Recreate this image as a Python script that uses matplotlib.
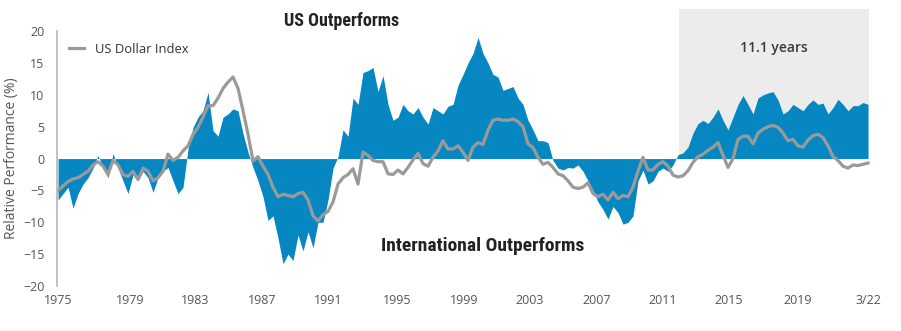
import numpy as np
from matplotlib import pyplot as plt
from matplotlib.patches import Rectangle

# relative performance US vs international (%), sampled evenly across the chart
relative_perf = [
    -6.5, -5.5, -4.5, -7.8, -5.5, -4.0, -3.0, -1.5, 0.5, -1.5,
    -3.0, 0.8, -1.5, -3.5, -5.5, -2.5, -3.5, -2.0, -3.0, -5.3,
    -3.0, -2.0, -1.4, -3.5, -5.5, -4.5, 1.5, 4.9, 6.5, 7.5,
    10.4, 4.4, 3.5, 6.5, 7.0, 7.8, 7.5, 3.9, 1.0, -1.4,
    -3.5, -6.0, -9.7, -9.0, -12.5, -16.5, -15.0, -16.0, -12.0, -14.5,
    -11.5, -14.0, -10.0, -10.0, -6.5, -1.5, 0.3, 4.5, 3.5, 9.5,
    8.5, 13.5, 13.8, 14.3, 10.5, 13.0, 8.5, 6.0, 6.5, 8.5,
    7.5, 7.0, 8.0, 6.5, 5.4, 8.0, 7.5, 7.0, 8.2, 8.5,
    11.5, 13.2, 15.0, 16.5, 19.0, 16.5, 15.0, 13.2, 12.8, 10.7,
    11.0, 11.3, 9.5, 8.5, 6.0, 4.5, 2.8, 2.8, 2.5, -0.3,
    -1.5, -1.8, -1.4, -1.5, -1.0, -2.0, -3.5, -5.0, -6.8, -8.0,
    -9.5, -7.5, -8.5, -10.3, -10.0, -9.0, -3.5, -1.8, -4.0, -3.5,
    -2.0, -1.5, -2.0, -1.0, 0.6, 0.9, 1.8, 4.0, 5.5, 6.0,
    5.5, 6.5, 7.8, 6.0, 4.5, 6.5, 8.5, 9.9, 8.5, 7.0,
    9.5, 10.0, 10.3, 10.5, 9.2, 7.0, 7.5, 8.5, 8.0, 7.5,
    8.5, 9.2, 8.5, 8.7, 7.0, 8.0, 9.3, 8.5, 7.5, 8.3,
    8.3, 8.8, 8.5,
]
dollar_index = [
    -5.0, -4.3, -3.6, -3.2, -3.0, -2.5, -2.0, -1.0, -0.5, -1.2,
    -2.5, -0.3, -1.0, -2.5, -2.8, -2.0, -3.3, -1.5, -2.0, -3.5,
    -3.0, -2.0, 0.7, -0.3, 0.2, 1.2, 2.0, 3.8, 4.9, 6.5,
    8.3, 8.3, 9.5, 11.0, 12.0, 12.8, 11.0, 7.5, 3.8, -0.4,
    0.3, -1.2, -2.5, -4.5, -6.0, -5.6, -5.8, -6.0, -5.5, -5.3,
    -6.5, -9.0, -9.8, -8.8, -8.3, -6.8, -4.0, -3.0, -2.5, -1.6,
    -4.0, 1.0, 0.5, -0.3, -0.5, -0.5, -2.4, -2.5, -1.8, -2.4,
    -1.4, -0.2, 0.8, -0.8, -1.2, 0.2, 1.2, 2.8, 1.5, 1.5,
    2.0, 1.0, -0.3, 1.8, 2.5, 2.2, 4.5, 6.0, 6.2, 6.0,
    6.0, 6.2, 5.8, 5.0, 2.3, 1.7, 0.2, -0.9, -0.6, -1.4,
    -2.4, -2.7, -3.5, -4.5, -4.7, -4.5, -3.8, -5.5, -6.0, -5.6,
    -6.5, -5.3, -6.3, -5.8, -6.0, -4.5, -2.0, 0.2, -1.8, -1.8,
    -0.9, -0.5, -1.2, -2.6, -2.9, -2.7, -1.9, -0.6, 0.3, 0.7,
    1.3, 1.8, 2.5, 0.5, -1.4, 0.0, 3.0, 3.5, 3.5, 2.3,
    4.0, 4.6, 5.0, 5.2, 4.9, 4.0, 2.8, 3.0, 2.0, 1.8,
    2.9, 3.6, 3.8, 3.3, 2.0, 0.3, -0.3, -1.2, -1.5, -1.0,
    -1.1, -0.9, -0.7,
]
tick_labels = ['1975', '1979', '1983', '1987', '1991', '1995', '1999',
               '2003', '2007', '2011', '2015', '2019', '3/22']
tick_pos = [0, 14.4, 27.4, 40.8, 54, 67.8, 81.2, 94.4, 107.8, 121, 134.2, 148, 162]
streak_start, streak_end = 124.2, 162.2

x = np.arange(len(relative_perf))
blue = '#0787c2'
grey = '#9a9a9a'
txt = '#555555'

plt.rcParams['font.family'] = ['Open Sans', 'DejaVu Sans']
fig = plt.figure(figsize=(9.01, 3.31), dpi=100)
ax = fig.add_axes([0.0633, 0.136, 0.9023, 0.770])

ax.add_patch(Rectangle((streak_start, 0), streak_end - streak_start, 23.4,
                       facecolor='#ececec', edgecolor='none', clip_on=False, zorder=0))
ax.fill_between(x, 0, relative_perf, color=blue, lw=0, zorder=1)
ax.plot(x, dollar_index, color=grey, lw=2.3, label='US Dollar Index', zorder=2)

ax.set_xlim(-0.2, 162.4)
ax.set_ylim(-20, 20)
ax.set_yticks(range(-20, 21, 5))
ax.set_xticks(tick_pos)
ax.set_xticklabels(tick_labels)
ax.tick_params(length=0, labelsize=9, labelcolor=txt, pad=6)
ax.tick_params(axis='y', pad=9)
for s in ['top', 'right', 'bottom']:
    ax.spines[s].set_visible(False)
ax.spines['left'].set_color('#b5b5b5')
ax.spines['left'].set_linewidth(1.2)
ax.set_ylabel('Relative Performance (%)', fontsize=10, color=txt)
ax.yaxis.set_label_coords(-0.047, 0.5)

ax.legend(loc='upper left', bbox_to_anchor=(0.0, 1.0), frameon=False,
          fontsize=9.4, handlelength=1.2, labelcolor='#333333')

head = ['Roboto Condensed', 'Roboto', 'DejaVu Sans']
ax.text(0.3495, 1.038, 'US Outperforms', transform=ax.transAxes, ha='center', va='center',
        fontsize=13, fontweight='bold', fontstretch='condensed', color='#222222', family=head)
ax.text(0.523, 0.155, 'International Outperforms', transform=ax.transAxes, ha='center',
        va='center', fontsize=14, fontweight='bold', fontstretch='condensed',
        color='#222222', family=head)
ax.text((streak_start + streak_end) / 2, 17.3, '11.1 years', ha='center', va='center',
        fontsize=10, fontweight='semibold', color='#3a3a3a')

fig.savefig('out.png', dpi=100)
